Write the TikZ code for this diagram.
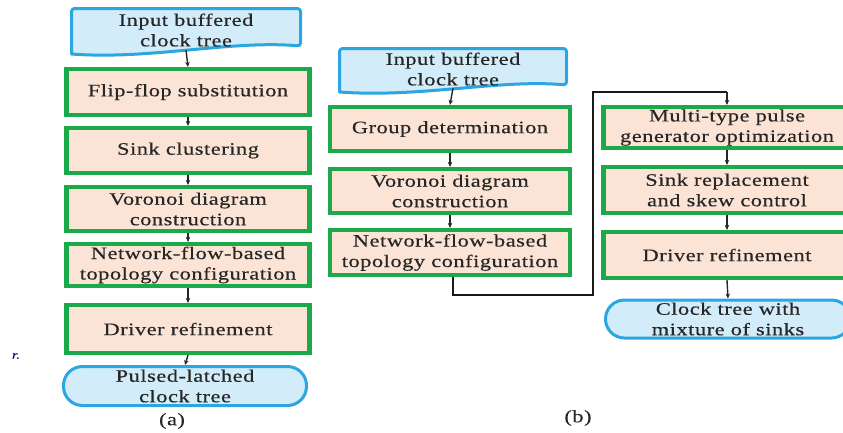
\documentclass[tikz,border=0pt]{standalone}
\usepackage{fontspec}
\setmainfont{Liberation Serif}[FakeStretch=1.28,LetterSpace=3,FakeBold=0.4]
\usetikzlibrary{arrows.meta,calc}
\definecolor{gbord}{HTML}{1BAA4A}
\definecolor{peach}{HTML}{FBE4D6}
\definecolor{bbord}{HTML}{2BA6E0}
\definecolor{bfill}{HTML}{D3ECFA}
\definecolor{txt}{HTML}{262626}
\tikzset{
  stepbox/.style={draw=gbord,fill=peach,line width=4.2pt,minimum width=243pt,
    text=txt,align=center,inner sep=0pt,font=\fontsize{17.5}{20.5}\selectfont},
  termbox/.style={draw=bbord,fill=bfill,line width=3pt,rounded corners=19pt,
    text=txt,align=center,inner sep=0pt,font=\fontsize{17.5}{20.5}\selectfont},
  docshape/.style={draw=bbord,fill=bfill,line width=3pt,line join=round},
  doctext/.style={text=txt,align=center,inner sep=0pt,font=\fontsize{17.5}{20.5}\selectfont},
  flow/.style={-{Stealth[length=5pt,width=4.5pt]},line width=1.4pt,black!85},
  loopline/.style={line width=1.8pt,black!90},
  caplabel/.style={text=txt,font=\fontsize{17.5}{20}\selectfont}
}
\begin{document}
\begin{tikzpicture}[x=1pt,y=-1pt]
\useasboundingbox (0,0) rectangle (843,432);
\clip (0,0) rectangle (843,432);
% ---------- panel (a) ----------
\draw[docshape] (71.5,54) -- (71.5,11.5) [rounded corners=3pt] -- (71.5,8.5) -- (300.5,8.5) -- (300.5,46) [sharp corners]
  .. controls (230,40) and (150,60) .. (71.5,54) -- cycle;
\node[doctext,minimum width=229pt,minimum height=40pt] (ain) at (186,30) {Input buffered\\clock tree};
\node[stepbox,minimum height=46pt] (a1) at (188,92) {Flip-flop substitution};
\node[stepbox,minimum height=45pt] (a2) at (188,150.5) {Sink clustering};
\node[stepbox,minimum height=44pt] (a3) at (188,209) {Voronoi diagram\\construction};
\node[stepbox,minimum height=42pt] (a4) at (188,265) {Network-flow-based\\topology configuration};
\node[stepbox,minimum height=48pt] (a5) at (188,329) {Driver refinement};
\node[termbox,minimum width=243pt,minimum height=39pt] (a6) at (185,386) {Pulsed-latched\\clock tree};
\draw[flow] (ain.south) -- (a1.north);
\draw[flow] (a1.south) -- (a2.north);
\draw[flow] (a2.south) -- (a3.north);
\draw[flow] (a3.south) -- (a4.north);
\draw[flow] (a4.south) -- (a5.north);
\draw[flow] (a5.south) -- (a6.north);
\node[caplabel] (la) at (172,421) {(a)};
\node[text=black!60!blue,font=\fontsize{11}{11}\itshape] (art) at (16,356) {r.};
% ---------- panel (b) left ----------
\draw[docshape] (339.5,92) -- (339.5,51.5) [rounded corners=3pt] -- (339.5,48.5) -- (566.5,48.5) -- (566.5,85) [sharp corners]
  .. controls (500,79) and (420,98) .. (339.5,92) -- cycle;
\node[doctext,minimum width=227pt,minimum height=38pt] (bin) at (453,69) {Input buffered\\clock tree};
\node[stepbox,minimum width=240pt,minimum height=44pt] (b1) at (450,129) {Group determination};
\node[stepbox,minimum width=240pt,minimum height=44pt] (b2) at (450,191) {Voronoi diagram\\construction};
\node[stepbox,minimum width=240pt,minimum height=45pt] (b3) at (450,252.5) {Network-flow-based\\topology configuration};
\draw[flow] (bin.south) -- (b1.north);
\draw[flow] (b1.south) -- (b2.north);
\draw[flow] (b2.south) -- (b3.north);
% ---------- panel (b) right ----------
\node[stepbox,minimum width=247pt,minimum height=41pt] (c1) at (727,127.5) {Multi-type pulse\\generator optimization};
\node[stepbox,minimum width=247pt,minimum height=46pt] (c2) at (727,190) {Sink replacement\\and skew control};
\node[stepbox,minimum width=247pt,minimum height=46pt] (c3) at (727,255) {Driver refinement};
\node[termbox,minimum width=245pt,minimum height=38pt] (c4) at (728,319) {Clock tree with\\mixture of sinks};
\draw[flow] (c1.south) -- (c2.north);
\draw[flow] (c2.south) -- (c3.north);
\draw[flow] (c3.south) -- (c4.north);
\coordinate (k1) at (453,295);
\coordinate (k2) at (593,295);
\coordinate (k3) at (593,92);
\coordinate (k4) at (727,92);
\draw[loopline] ([xshift=3pt]b3.south) |- (k2) -- (k3) -- (k4);
\draw[flow,line width=1.8pt] (k4) -- (c1.north);
\node[caplabel] (lb) at (578,418) {(b)};
\end{tikzpicture}
\end{document}
